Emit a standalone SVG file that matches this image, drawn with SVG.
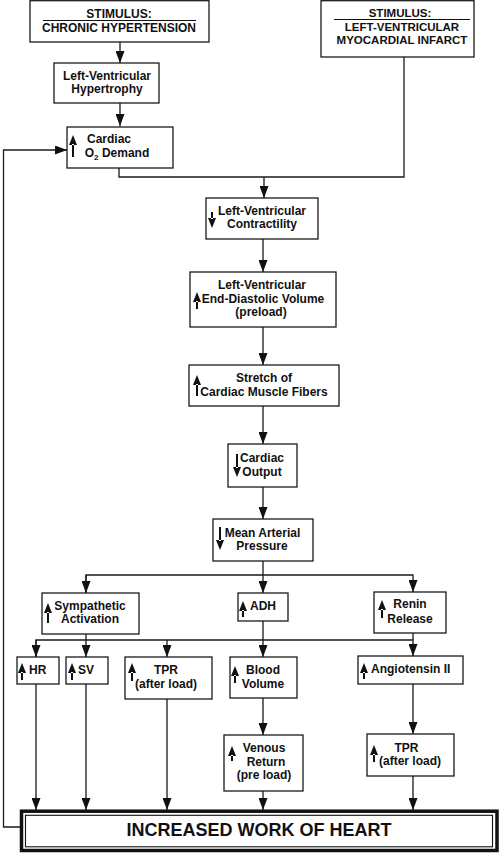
<svg xmlns="http://www.w3.org/2000/svg" width="500" height="853" viewBox="0 0 500 853">
<style>
.b{fill:#fff;stroke:#1a1a1a;stroke-width:1.3}
.c{fill:none;stroke:#1a1a1a;stroke-width:1.3}
.t{font-family:"Liberation Sans",Arial,sans-serif;font-weight:bold;font-size:12px;fill:#111;text-anchor:middle}
.s{text-anchor:start}
.r{font-size:11.5px}
.g{fill:#111;stroke:none}
.big{font-size:18px}
</style>
<defs>
<marker id="ah" viewBox="0 0 12 9" markerWidth="12" markerHeight="9" refX="12" refY="4.5" orient="auto" markerUnits="userSpaceOnUse">
<path d="M0,0 L12,4.5 L0,9 z" fill="#111"/>
</marker>
</defs>
<rect width="500" height="853" fill="#fff"/>

<g id="connectors">
<path class="c" d="M120,42 V63" marker-end="url(#ah)"/>
<path class="c" d="M120,103 V126" marker-end="url(#ah)"/>
<path class="c" d="M20,827 H3.5 V150 H67" marker-end="url(#ah)"/>
<path class="c" d="M119,168 V177 H404 V57"/>
<path class="c" d="M264,177 V198" marker-end="url(#ah)"/>
<path class="c" d="M263,239 V272" marker-end="url(#ah)"/>
<path class="c" d="M263,327 V365" marker-end="url(#ah)"/>
<path class="c" d="M263,406 V444" marker-end="url(#ah)"/>
<path class="c" d="M263,487 V519" marker-end="url(#ah)"/>
<path class="c" d="M263,561 V593" marker-end="url(#ah)"/>
<path class="c" d="M86,593 V575 H413 V592" marker-end="url(#ah)"/>
<path class="c" d="M86,575 V593" marker-end="url(#ah)"/>
<path class="c" d="M36,657 V640 H413 V656" marker-end="url(#ah)"/>
<path class="c" d="M36,640 V657" marker-end="url(#ah)"/>
<path class="c" d="M86,634 V657" marker-end="url(#ah)"/>
<path class="c" d="M167,640 V657" marker-end="url(#ah)"/>
<path class="c" d="M263,621 V657" marker-end="url(#ah)"/>
<path class="c" d="M413,633 V640"/>
<path class="c" d="M36,684 V810" marker-end="url(#ah)"/>
<path class="c" d="M86,684 V810" marker-end="url(#ah)"/>
<path class="c" d="M167,699 V810" marker-end="url(#ah)"/>
<path class="c" d="M263,698 V735" marker-end="url(#ah)"/>
<path class="c" d="M263,791 V810" marker-end="url(#ah)"/>
<path class="c" d="M413,684 V734" marker-end="url(#ah)"/>
<path class="c" d="M413,776 V810" marker-end="url(#ah)"/>
</g>

<g id="stim1">
<rect class="b" x="30" y="0.7" width="179" height="41.3"/>
<text class="t" x="119" y="18">STIMULUS:</text>
<line x1="43" y1="20.5" x2="196" y2="20.5" stroke="#111" stroke-width="1.1"/>
<text class="t" x="119" y="32">CHRONIC HYPERTENSION</text>
</g>

<g id="stim2">
<rect class="b" x="321" y="0.7" width="153" height="56.3"/>
<text class="t r" x="400" y="16.5">STIMULUS:</text>
<line x1="334" y1="19.5" x2="470" y2="19.5" stroke="#111" stroke-width="1.1"/>
<text class="t r" x="402" y="30.5">LEFT-VENTRICULAR</text>
<text class="t r" x="402" y="43.5">MYOCARDIAL INFARCT</text>
</g>

<g id="lvh">
<rect class="b" x="54" y="63" width="105" height="40"/>
<text class="t" x="107" y="80">Left-Ventricular</text>
<text class="t" x="107" y="93">Hypertrophy</text>
</g>

<g id="o2">
<rect class="b" x="67" y="127" width="106" height="41"/>
<path class="g" d="M73,135 L69,145 L77,145 Z M72,144 H74 V157 H72 Z"/>
<text class="t" x="109" y="143">Cardiac</text>
<text class="t" x="117" y="157">O<tspan font-size="8" dy="3">2</tspan><tspan dy="-3"> Demand</tspan></text>
</g>

<g id="contract">
<rect class="b" x="206" y="198" width="112" height="41"/>
<path class="g" d="M212,228 L208,218 L216,218 Z M211,219 H213 V212 H211 Z"/>
<text class="t" x="262" y="215">Left-Ventricular</text>
<text class="t" x="262" y="228">Contractility</text>
</g>

<g id="edv">
<rect class="b" x="190" y="272" width="146" height="55"/>
<path class="g" d="M197,292 L193,302 L201,302 Z M196,301 H198 V309 H196 Z"/>
<text class="t" x="262" y="289">Left-Ventricular</text>
<text class="t" x="263" y="303">End-Diastolic Volume</text>
<text class="t" x="261" y="316">(preload)</text>
</g>

<g id="stretch">
<rect class="b" x="189" y="365" width="150" height="41"/>
<path class="g" d="M197,375 L193,385 L201,385 Z M196,384 H198 V396 H196 Z"/>
<text class="t" x="264" y="382">Stretch of</text>
<text class="t" x="264" y="396">Cardiac Muscle Fibers</text>
</g>

<g id="co">
<rect class="b" x="228" y="444" width="69" height="43"/>
<path class="g" d="M237,477 L233,467 L241,467 Z M236,468 H238 V454 H236 Z"/>
<text class="t" x="262" y="462">Cardiac</text>
<text class="t" x="262" y="476">Output</text>
</g>

<g id="map">
<rect class="b" x="213" y="519" width="100" height="42"/>
<path class="g" d="M220,550 L216,540 L224,540 Z M219,541 H221 V527 H219 Z"/>
<text class="t" x="262.5" y="537">Mean Arterial</text>
<text class="t" x="262" y="550">Pressure</text>
</g>

<g id="symp">
<rect class="b" x="42" y="593" width="97" height="41"/>
<path class="g" d="M48,603 L44,613 L52,613 Z M47,612 H49 V623 H47 Z"/>
<text class="t" x="90" y="610">Sympathetic</text>
<text class="t" x="90" y="623">Activation</text>
</g>

<g id="adh">
<rect class="b" x="238" y="593" width="50" height="28"/>
<path class="g" d="M243,601 L239,611 L247,611 Z M242,610 H244 V617 H242 Z"/>
<text class="t s" x="250" y="610">ADH</text>
</g>

<g id="renin">
<rect class="b" x="374" y="592" width="72" height="41"/>
<path class="g" d="M382,600 L378,610 L386,610 Z M381,609 H383 V618 H381 Z"/>
<text class="t" x="410" y="608">Renin</text>
<text class="t" x="410" y="623">Release</text>
</g>

<g id="hr">
<rect class="b" x="17" y="657" width="42" height="27"/>
<path class="g" d="M22,663 L18,673 L26,673 Z M21,672 H23 V680 H21 Z"/>
<text class="t s" x="29" y="674">HR</text>
</g>

<g id="sv">
<rect class="b" x="66" y="657" width="42" height="27"/>
<path class="g" d="M72,663 L68,673 L76,673 Z M71,672 H73 V680 H71 Z"/>
<text class="t s" x="78" y="674">SV</text>
</g>

<g id="tpr1">
<rect class="b" x="125" y="657" width="87" height="42"/>
<path class="g" d="M132,663 L128,673 L136,673 Z M131,672 H133 V681 H131 Z"/>
<text class="t" x="166" y="674">TPR</text>
<text class="t" x="166" y="688">(after load)</text>
</g>

<g id="blood">
<rect class="b" x="230" y="657" width="67" height="41"/>
<path class="g" d="M235,666 L231,676 L239,676 Z M234,675 H236 V683 H234 Z"/>
<text class="t" x="263" y="674">Blood</text>
<text class="t" x="263" y="688">Volume</text>
</g>

<g id="angio">
<rect class="b" x="358" y="656" width="105" height="28"/>
<path class="g" d="M364,663 L360,673 L368,673 Z M363,672 H365 V679 H363 Z"/>
<text class="t s" x="371" y="673">Angiotensin II</text>
</g>

<g id="venous">
<rect class="b" x="224" y="735" width="79" height="56"/>
<path class="g" d="M232,746 L228,756 L236,756 Z M231,755 H233 V761 H231 Z"/>
<text class="t" x="264" y="752">Venous</text>
<text class="t" x="266" y="766">Return</text>
<text class="t" x="264" y="779">(pre load)</text>
</g>

<g id="tpr2">
<rect class="b" x="367" y="734" width="87" height="42"/>
<path class="g" d="M374,745 L370,755 L378,755 Z M373,754 H375 V762 H373 Z"/>
<text class="t" x="406.5" y="752">TPR</text>
<text class="t" x="410" y="765">(after load)</text>
</g>

<g id="work">
<rect x="21.5" y="811.2" width="475.5" height="39.3" fill="#fff" stroke="#111" stroke-width="3.5"/>
<rect x="25.5" y="815.3" width="467" height="31.5" fill="none" stroke="#111" stroke-width="1.1"/>
<text class="t big" x="259" y="836">INCREASED WORK OF HEART</text>
</g>
</svg>
